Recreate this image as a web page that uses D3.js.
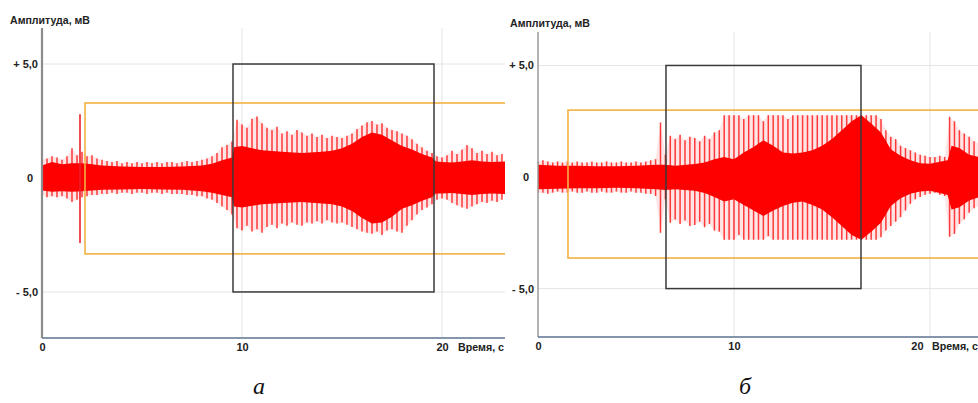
<!DOCTYPE html>
<html>
<head>
<meta charset="utf-8">
<script src="https://cdn.jsdelivr.net/npm/d3@7"></script>
<style>
  body { margin: 0; background: #fff; }
  svg { display: block; font-family: "Liberation Sans", Arial, sans-serif; }
  .lbl { font-weight: bold; fill: #222; }
  .cap { font-family: "Liberation Serif", "Times New Roman", serif; font-style: italic; fill: #111; }
</style>
</head>
<body>
<svg id="chart" width="978" height="403"></svg>
<script>
// thin peaks are sampled every 0.25 s, rows below = one second each
var peakStep = 0.25;
var xTicks = [0, 10, 20];
var yTicks = [-5, 0, 5];
var yTickText = {"-5": "- 5,0", "0": "0", "5": "+ 5,0"};

// ---- panel a ----
var leftPeakUp = [
  0.80, 0.85, 0.95, 0.90,  0.80, 0.95, 1.30, 1.00,  1.15, 0.95, 1.00, 0.85,
  0.80, 0.75, 0.70, 0.75,  0.65, 0.70, 0.65, 0.70,  0.65, 0.70, 0.65, 0.70,
  0.65, 0.70, 0.70, 0.65,  0.70, 0.75, 0.70, 0.75,  0.80, 0.85, 0.95, 1.10,
  1.35, 1.45, 1.60, 2.55,  2.35, 2.20, 2.60, 2.70,  2.40, 2.20, 2.10, 2.25,
  1.95, 2.05, 1.90, 2.10,  2.00, 1.85, 1.95, 1.80,  1.90, 1.75, 1.85, 1.80,
  1.75, 1.85, 1.95, 2.15,  2.30, 2.45, 2.50, 2.35,  2.40, 2.20, 2.10, 2.05,
  1.95, 1.85, 1.70, 1.50,  1.35, 1.20, 1.10, 0.95,  0.90, 1.00, 1.20, 1.05,
  1.25, 1.45, 1.30, 1.10,  1.20, 1.05, 1.15, 1.00,  1.05
];
var leftPeakDown = [
  -0.75, -0.85, -0.80, -0.85,  -0.80, -0.90, -1.05, -0.95,  -0.85, -0.80, -0.75, -0.75,
  -0.70, -0.70, -0.65, -0.70,  -0.65, -0.65, -0.70, -0.65,  -0.65, -0.70, -0.65, -0.65,
  -0.70, -0.65, -0.70, -0.70,  -0.70, -0.75, -0.75, -0.80,  -0.80, -0.90, -0.95, -1.10,
  -1.25, -1.40, -1.60, -2.20,  -2.30, -2.10, -2.35, -2.25,  -2.40, -2.15, -2.05, -2.20,
  -2.00, -2.10, -1.95, -2.05,  -2.10, -1.95, -2.00, -1.90,  -2.00, -1.85, -1.95, -2.00,
  -1.95, -2.05, -2.15, -2.25,  -2.35, -2.40, -2.45, -2.35,  -2.50, -2.30, -2.25, -2.35,
  -2.40, -2.10, -1.85, -1.60,  -1.40, -1.30, -1.15, -0.95,  -0.90, -0.95, -1.10, -1.20,
  -1.30, -1.35, -1.25, -1.15,  -1.05, -1.10, -1.00, -1.05,  -0.95
];
var leftCoreT = [0, 0.5, 1, 1.5, 2, 2.5, 3, 4, 5, 6, 7, 8, 8.5, 9, 9.5, 9.6, 10, 10.5, 11, 12, 13, 14,
  14.5, 15, 15.5, 16, 16.5, 17, 17.5, 18, 18.5, 19, 19.5, 19.7, 20, 20.5, 21, 21.5, 22, 22.5, 23.2];
var leftCoreUp = [0.55, 0.70, 0.60, 0.65, 0.65, 0.60, 0.55, 0.50, 0.48, 0.48, 0.50, 0.55, 0.62, 0.78, 0.90, 1.35,
  1.40, 1.30, 1.22, 1.15, 1.10, 1.15, 1.20, 1.30, 1.50, 1.80, 2.00, 1.90, 1.65, 1.40, 1.25, 1.05, 0.90,
  0.72, 0.70, 0.68, 0.72, 0.78, 0.72, 0.70, 0.72];
var leftCoreDown = [-0.55, -0.60, -0.58, -0.60, -0.58, -0.55, -0.52, -0.50, -0.48, -0.50, -0.52, -0.58, -0.65, -0.75, -0.85, -1.25,
  -1.30, -1.22, -1.15, -1.10, -1.05, -1.12, -1.15, -1.25, -1.45, -1.75, -2.00, -1.95, -1.70, -1.35, -1.20, -1.00, -0.85,
  -0.68, -0.68, -0.66, -0.70, -0.75, -0.70, -0.68, -0.70];
var leftArtifact = [1.9, -2.85, 2.8];          // t, low, high
var leftBlackBox = [9.55, 19.6, -5, 5];        // t0, t1, low, high
var leftOrangeBox = [2.15, 24, -3.33, 3.29];

// ---- panel б ----
var rightPeakUp = [
  0.70, 0.75, 0.70, 0.65,  0.70, 0.65, 0.70, 0.65,  0.70, 0.65, 0.65, 0.70,
  0.65, 0.65, 0.70, 0.65,  0.65, 0.70, 0.65, 0.65,  0.70, 0.65, 0.70, 0.75,
  0.80, 2.45, 1.00, 1.85,  1.70, 1.90, 1.65, 1.80,  1.75, 1.60, 1.85, 1.70,
  2.00, 2.10, 2.77, 2.77,  2.77, 2.77, 2.60, 2.77,  2.77, 2.77, 2.50, 2.77,
  2.77, 2.77, 2.77, 2.60,  2.77, 2.77, 2.77, 2.77,  2.77, 2.77, 2.77, 2.77,
  2.77, 2.77, 2.77, 2.77,  2.77, 2.77, 2.77, 2.77,  2.77, 2.77, 2.60, 2.10,
  1.80, 1.70, 1.40, 1.30,  1.20, 1.10, 1.00, 0.95,  0.90, 0.90, 0.95, 0.90,
  2.70, 2.50, 2.10, 1.95,  1.80, 1.60, 1.50
];
var rightPeakDown = [
  -0.70, -0.70, -0.75, -0.70,  -0.65, -0.70, -0.70, -0.65,  -0.70, -0.70, -0.65, -0.70,
  -0.70, -0.65, -0.70, -0.70,  -0.65, -0.70, -0.70, -0.65,  -0.70, -0.70, -0.75, -0.75,
  -0.85, -2.50, -1.00, -2.05,  -1.90, -2.10, -1.95, -2.20,  -2.15, -2.00, -2.25, -2.10,
  -2.40, -2.45, -2.81, -2.81,  -2.81, -2.60, -2.81, -2.81,  -2.81, -2.81, -2.81, -2.65,
  -2.81, -2.81, -2.81, -2.81,  -2.81, -2.81, -2.81, -2.81,  -2.81, -2.81, -2.81, -2.81,
  -2.81, -2.81, -2.81, -2.81,  -2.81, -2.81, -2.81, -2.81,  -2.81, -2.81, -2.70, -2.40,
  -2.20, -2.00, -1.80, -1.50,  -1.20, -1.00, -0.90, -0.80,  -0.75, -0.70, -0.80, -0.85,
  -2.68, -2.55, -2.10, -1.90,  -1.60, -1.40, -1.30
];
var rightCoreT = [0, 1, 2, 3, 4, 5, 6, 6.5, 7, 8, 8.5, 9, 9.5, 10, 10.5, 11, 11.5, 12, 12.5, 13, 13.5, 14,
  14.5, 15, 15.5, 16, 16.5, 17, 17.5, 18, 18.5, 19, 19.5, 20, 20.5, 20.9, 21.1, 21.5, 22, 22.5];
var rightCoreUp = [0.55, 0.50, 0.50, 0.48, 0.48, 0.50, 0.55, 0.55, 0.50, 0.58, 0.65, 0.80, 0.90, 0.80,
  1.10, 1.35, 1.65, 1.40, 1.10, 1.05, 1.10, 1.20, 1.40, 1.70, 2.10, 2.50, 2.77, 2.40, 2.00, 1.25,
  0.95, 0.75, 0.62, 0.60, 0.68, 0.75, 1.40, 1.30, 1.00, 0.90];
var rightCoreDown = [-0.55, -0.52, -0.50, -0.50, -0.48, -0.50, -0.55, -0.58, -0.55, -0.62, -0.72, -0.90, -1.10, -1.00,
  -1.25, -1.50, -1.75, -1.50, -1.30, -1.15, -1.10, -1.25, -1.45, -1.80, -2.20, -2.60, -2.81, -2.45, -2.05, -1.30,
  -0.95, -0.75, -0.65, -0.62, -0.72, -0.80, -1.45, -1.35, -1.05, -0.90];
var rightBlackBox = [6.53, 16.48, -5, 5];
var rightOrangeBox = [1.53, 24, -3.63, 3.0];

var svg = d3.select("#chart");

var panels = [
  { name: "a", caption: "а", captionX: 259,
    left: 42, right: 505, top: 28, bottom: 338, xMax: 23.15, yDomain: [-7.02, 6.58],
    axisW: 2.2, axisCol: "#8c8c8c", titleX: 10, titleY: 24, xLabelDx: 16, lastTickDx: 0,
    peakUp: leftPeakUp, peakDown: leftPeakDown,
    coreT: leftCoreT, coreUp: leftCoreUp, coreDown: leftCoreDown,
    artifact: leftArtifact, blackBox: leftBlackBox, orangeBox: leftOrangeBox },
  { name: "b", caption: "б", captionX: 745,
    left: 538, right: 978, top: 32, bottom: 337, xMax: 22.45, yDomain: [-7.17, 6.5],
    axisW: 1.5, axisCol: "#9a9a9a", titleX: 510, titleY: 27, xLabelDx: 2, lastTickDx: -13,
    peakUp: rightPeakUp, peakDown: rightPeakDown,
    coreT: rightCoreT, coreUp: rightCoreUp, coreDown: rightCoreDown,
    artifact: null, blackBox: rightBlackBox, orangeBox: rightOrangeBox }
];

panels.forEach(drawPanel);

function drawPanel(p) {
  var x = d3.scaleLinear().domain([0, p.xMax]).range([p.left, p.right]);
  var y = d3.scaleLinear().domain(p.yDomain).range([p.bottom, p.top]);
  var g = svg.append("g");

  var clipId = "clip-" + p.name;
  svg.append("clipPath").attr("id", clipId).append("rect")
      .attr("x", p.left).attr("y", p.top)
      .attr("width", p.right - p.left).attr("height", p.bottom - p.top);

  // grid
  g.selectAll(".hg").data([-5, 5]).enter().append("line")
      .attr("x1", p.left).attr("x2", p.right)
      .attr("y1", function(d) { return y(d); }).attr("y2", function(d) { return y(d); })
      .attr("stroke", "#e4e4e4");
  g.selectAll(".vg").data([10, 20]).enter().append("line")
      .attr("x1", function(d) { return x(d); }).attr("x2", function(d) { return x(d); })
      .attr("y1", p.top).attr("y2", p.bottom)
      .attr("stroke", "#e4e4e4");

  var sig = g.append("g").attr("clip-path", "url(#" + clipId + ")");

  var peaks = p.peakUp.map(function(v, i) { return { t: i * peakStep, hi: v, lo: p.peakDown[i] }; });
  var core = p.coreT.map(function(t, i) { return { t: t, hi: p.coreUp[i], lo: p.coreDown[i] }; });

  var band = d3.area()
      .x(function(d) { return x(d.t); })
      .y0(function(d) { return y(d.lo); })
      .y1(function(d) { return y(d.hi); });

  sig.append("path").datum(peaks).attr("d", band)
      .attr("fill", "#ff0000").attr("opacity", 0.1);
  sig.selectAll(".spk").data(peaks).enter().append("line")
      .attr("x1", function(d) { return x(d.t); }).attr("x2", function(d) { return x(d.t); })
      .attr("y1", function(d) { return y(d.lo); }).attr("y2", function(d) { return y(d.hi); })
      .attr("stroke", "#ff0000").attr("stroke-width", 1.5).attr("opacity", 0.75);
  sig.append("path").datum(core).attr("d", band).attr("fill", "#ff0000");

  if (p.artifact) {
    sig.append("line")
        .attr("x1", x(p.artifact[0])).attr("x2", x(p.artifact[0]))
        .attr("y1", y(p.artifact[1])).attr("y2", y(p.artifact[2]))
        .attr("stroke", "#e8202a").attr("stroke-width", 1.6);
  }

  // selection windows
  var ob = p.orangeBox, bb = p.blackBox;
  sig.append("rect")
      .attr("x", x(ob[0])).attr("y", y(ob[3]))
      .attr("width", x(ob[1]) - x(ob[0])).attr("height", y(ob[2]) - y(ob[3]))
      .attr("fill", "none").attr("stroke", "#f2b144").attr("stroke-width", 1.6);
  sig.append("rect")
      .attr("x", x(bb[0])).attr("y", y(bb[3]))
      .attr("width", x(bb[1]) - x(bb[0])).attr("height", y(bb[2]) - y(bb[3]))
      .attr("fill", "none").attr("stroke", "#3a3a3a").attr("stroke-width", 1.5);

  // axis lines
  g.append("line").attr("x1", p.left).attr("x2", p.left).attr("y1", p.top).attr("y2", p.bottom)
      .attr("stroke", p.axisCol).attr("stroke-width", p.axisW);
  g.append("line").attr("x1", p.left).attr("x2", p.right).attr("y1", p.bottom).attr("y2", p.bottom)
      .attr("stroke", "#5d7391").attr("stroke-width", 1.5);

  // tick labels
  var xa = g.append("g").attr("transform", "translate(0," + p.bottom + ")")
      .call(d3.axisBottom(x).tickValues(xTicks).tickSize(0).tickPadding(5).tickFormat(d3.format("d")));
  xa.select(".domain").remove();
  xa.attr("font-size", null).attr("font-family", null);
  xa.selectAll("text").attr("class", "lbl").style("font-size", "11px")
      .attr("dx", function(d) { return d === 20 ? p.lastTickDx : 0; });

  var ya = g.append("g").attr("transform", "translate(" + p.left + ",0)")
      .call(d3.axisLeft(y).tickValues(yTicks).tickSize(0).tickPadding(4)
        .tickFormat(function(d) { return yTickText[d]; }));
  ya.select(".domain").remove();
  ya.attr("font-size", null).attr("font-family", null);
  ya.selectAll("text").attr("class", "lbl").style("font-size", "11px")
      .attr("dx", function(d) { return d === 0 ? -5 : 0; });

  g.append("text").attr("class", "lbl")
      .attr("x", x(20) + p.xLabelDx).attr("y", p.bottom + 13)
      .style("font-size", "11px").attr("textLength", 46).attr("lengthAdjust", "spacingAndGlyphs")
      .text("Время, с");

  g.append("text").attr("class", "lbl")
      .attr("x", p.titleX).attr("y", p.titleY)
      .style("font-size", "11.5px").attr("textLength", 80).attr("lengthAdjust", "spacingAndGlyphs")
      .text("Амплитуда, мВ");

  svg.append("text").attr("class", "cap")
      .attr("x", p.captionX).attr("y", 394)
      .attr("text-anchor", "middle").style("font-size", "24px")
      .text(p.caption);
}
</script>
</body>
</html>
